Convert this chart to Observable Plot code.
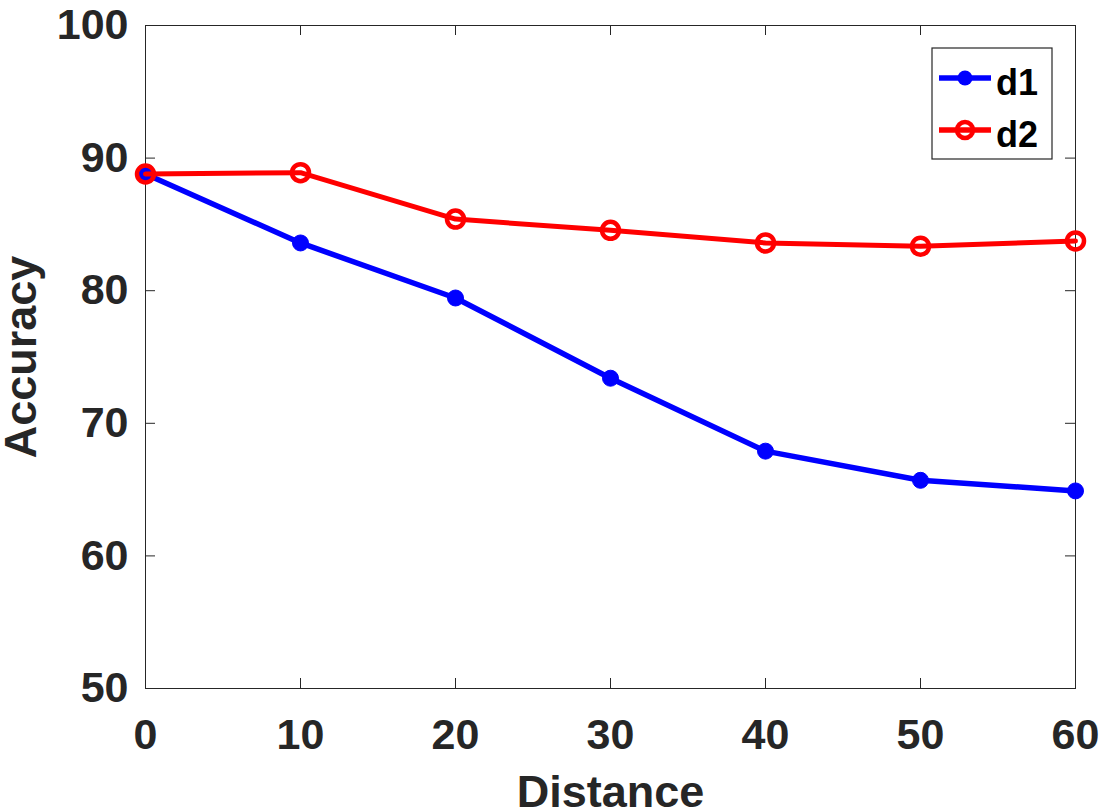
<!DOCTYPE html>
<html>
<head>
<meta charset="utf-8">
<script src="https://cdn.jsdelivr.net/npm/d3@7"></script>
<script src="https://cdn.jsdelivr.net/npm/@observablehq/plot@0.6"></script>
<style>
  html, body { margin: 0; padding: 0; background: #fff; }
  #wrap { position: relative; width: 1106px; height: 812px; }
  #wrap > svg { display: block; }
</style>
</head>
<body>
<div id="wrap"></div>
<script>
const distance = [0, 10, 20, 30, 40, 50, 60];
const d1 = [88.8, 83.6, 79.45, 73.4, 67.9, 65.7, 64.9];
const d2 = [88.8, 88.9, 85.4, 84.55, 83.6, 83.35, 83.75];
const xTicks = [0, 10, 20, 30, 40, 50, 60];
const yTicks = [50, 60, 70, 80, 90, 100];
const seriesNames = ["d1", "d2"];
const seriesColors = ["#0000ff", "#ff0000"];

const rows1 = distance.map((x, i) => ({x, y: d1[i]}));
const rows2 = distance.map((x, i) => ({x, y: d2[i]}));

const W = 1106, H = 812;
const mL = 145, mR = 31, mT = 25, mB = 124;
const innerW = W - mL - mR, innerH = H - mT - mB;
const tick = 10;
const axisColor = "#262626";

const chart = Plot.plot({
  width: W,
  height: H,
  marginLeft: mL,
  marginRight: mR,
  marginTop: mT,
  marginBottom: mB,
  style: {
    fontFamily: "'Liberation Sans', Arial, sans-serif",
    fontSize: "43px",
    fontWeight: "bold",
    color: axisColor,
    background: "#fff"
  },
  x: {domain: [0, 60], ticks: xTicks},
  y: {domain: [50, 100], ticks: yTicks},
  marks: [
    Plot.frame({stroke: axisColor, strokeWidth: 1}),
    // inward ticks on all four sides
    Plot.ruleX(xTicks, {stroke: axisColor, strokeWidth: 1, insetTop: innerH - tick}),
    Plot.ruleX(xTicks, {stroke: axisColor, strokeWidth: 1, insetBottom: innerH - tick}),
    Plot.ruleY(yTicks, {stroke: axisColor, strokeWidth: 1, insetRight: innerW - tick}),
    Plot.ruleY(yTicks, {stroke: axisColor, strokeWidth: 1, insetLeft: innerW - tick}),
    Plot.axisX(xTicks, {tickSize: 0, tickPadding: 30, label: null, fontSize: 43, fontWeight: "bold"}),
    Plot.axisY(yTicks, {tickSize: 0, tickPadding: 17, label: null, fontSize: 43, fontWeight: "bold"}),
    Plot.text(["Distance"], {frameAnchor: "bottom", textAnchor: "middle", lineAnchor: "top", dy: 87, fontSize: 45, fontWeight: "bold", fill: axisColor}),
    Plot.text(["Accuracy"], {frameAnchor: "left", textAnchor: "middle", lineAnchor: "top", rotate: -90, dx: -141, fontSize: 45, fontWeight: "bold", fill: axisColor}),
    // d1
    Plot.line(rows1, {x: "x", y: "y", stroke: seriesColors[0], strokeWidth: 5.5}),
    Plot.dot(rows1, {x: "x", y: "y", r: 8, fill: seriesColors[0], stroke: seriesColors[0], strokeWidth: 1}),
    // d2
    Plot.line(rows2, {x: "x", y: "y", stroke: seriesColors[1], strokeWidth: 5}),
    Plot.dot(rows2, {x: "x", y: "y", r: 8.5, fill: "none", stroke: seriesColors[1], strokeWidth: 4.5})
  ]
});

const wrap = document.getElementById("wrap");
wrap.appendChild(chart);

// legend (inside the plot, top right)
const ns = "http://www.w3.org/2000/svg";
const lg = document.createElementNS(ns, "svg");
lg.setAttribute("width", 122);
lg.setAttribute("height", 113);
lg.style.position = "absolute";
lg.style.left = "931px";
lg.style.top = "47px";
let html = `<rect x="1" y="1" width="120" height="111" fill="#fff" stroke="${axisColor}" stroke-width="1.2"/>`;
const rowsY = [31, 83];
seriesNames.forEach((name, i) => {
  const y = rowsY[i];
  const c = seriesColors[i];
  html += `<line x1="8" x2="60" y1="${y}" y2="${y}" stroke="${c}" stroke-width="5.5"/>`;
  if (i === 0) html += `<circle cx="34" cy="${y}" r="7.5" fill="${c}"/>`;
  else html += `<circle cx="34" cy="${y}" r="8" fill="none" stroke="${c}" stroke-width="4.5"/>`;
  html += `<text x="65" y="${y + 17}" font-family="'Liberation Sans', Arial, sans-serif" font-weight="bold" font-size="36" fill="#000">${name}</text>`;
});
lg.innerHTML = html;
wrap.appendChild(lg);
</script>
</body>
</html>
